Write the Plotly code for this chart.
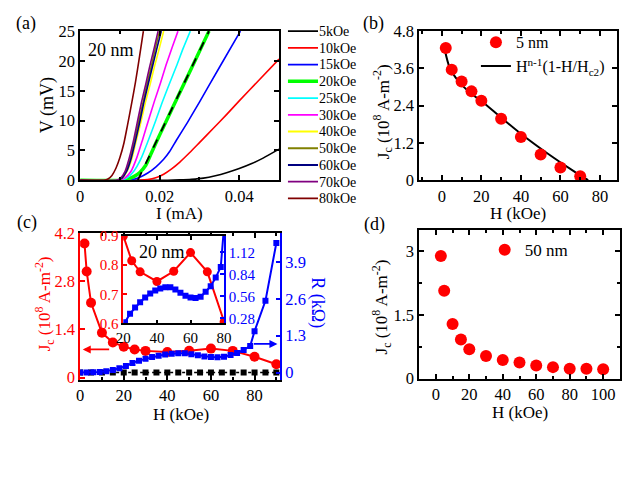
import plotly.graph_objects as go

FONT = "Liberation Serif"
W, H = 636, 496

# ---------------- (a) I-V curves, 20 nm ----------------
fields = ["5kOe", "10kOe", "15kOe", "20kOe", "25kOe", "30kOe",
          "40kOe", "50kOe", "60kOe", "70kOe", "80kOe"]
colors_a = ["#000000", "#ff0000", "#0000ff", "#00ff00", "#00ffff", "#ff00ff",
            "#ffff00", "#808000", "#000080", "#800080", "#800000"]

I_5k = [0, 0.022, 0.025, 0.028, 0.031, 0.034, 0.0368, 0.040, 0.043, 0.046, 0.050]
V_5k = [0, 0, 0.05, 0.15, 0.35, 0.75, 1.25, 1.95, 2.75, 3.7, 5.2]
I_10k = [0, 0.015, 0.017, 0.019, 0.021, 0.023, 0.025, 0.0275, 0.030, 0.0335, 0.0368, 0.040, 0.045, 0.050]
V_10k = [0, 0, 0.1, 0.4, 1.0, 1.9, 3.0, 4.6, 6.3, 8.7, 11.0, 13.3, 16.8, 20.3]
I_15k = [0, 0.011, 0.013, 0.015, 0.017, 0.019, 0.021, 0.0225, 0.0242, 0.027, 0.030, 0.035, 0.0403]
V_15k = [0, 0, 0.1, 0.5, 1.2, 2.2, 3.5, 4.8, 6.7, 9.7, 13.1, 18.9, 25]
I_20k = [0, 0.0105, 0.012, 0.0135, 0.015, 0.0165, 0.018, 0.020, 0.023, 0.026, 0.029, 0.0324]
V_20k = [0, 0, 0.2, 0.6, 1.3, 2.5, 4.7, 7.6, 11.8, 16.0, 20.2, 25]
I_25k = [0, 0.0100, 0.0118, 0.0135, 0.0153, 0.0171, 0.0189, 0.0206, 0.0224, 0.0242, 0.0259, 0.0277]
V_25k = [0, 0, 0.4, 1.5, 3.6, 6.6, 9.8, 13.0, 16.1, 19.1, 22.1, 25]
I_30k = [0, 0.0098, 0.0113, 0.0128, 0.0142, 0.0157, 0.0172, 0.0187, 0.0202, 0.0216, 0.0231, 0.0246]
V_30k = [0, 0, 0.4, 1.5, 3.7, 6.8, 10.1, 13.3, 16.3, 19.3, 22.2, 25]
I_40k = [0, 0.0095, 0.0107, 0.0118, 0.0130, 0.0141, 0.0153, 0.0164, 0.0176, 0.0187, 0.0199, 0.0210]
V_40k = [0, 0, 0.4, 1.5, 3.6, 6.6, 9.8, 13.0, 16.1, 19.1, 22.1, 25]
I_50k = [0, 0.0094, 0.0105, 0.0115, 0.0126, 0.0136, 0.0147, 0.0158, 0.0168, 0.0179, 0.0189, 0.0200]
V_50k = [0, 0, 0.4, 1.5, 3.6, 6.6, 9.8, 13.0, 16.1, 19.1, 22.1, 25]
I_60k = [0, 0.0095, 0.0106, 0.0117, 0.0128, 0.0139, 0.0150, 0.0160, 0.0171, 0.0182, 0.0193, 0.0204]
V_60k = [0, 0, 0.4, 1.5, 3.6, 6.6, 9.8, 13.0, 16.1, 19.1, 22.1, 25]
I_70k = [0, 0.0092, 0.0102, 0.0113, 0.0123, 0.0134, 0.0144, 0.0154, 0.0165, 0.0175, 0.0186, 0.0196]
V_70k = [0, 0, 0.4, 1.5, 3.6, 6.6, 9.8, 13.0, 16.1, 19.1, 22.1, 25]
I_80k = [0, 0.0060, 0.0070, 0.0080, 0.0090, 0.0100, 0.0110, 0.0119, 0.0129, 0.0139, 0.0149, 0.0159]
V_80k = [0, 0, 0.2, 0.8, 2.0, 3.8, 6.2, 9.2, 12.7, 16.4, 20.6, 25]
I_fit20 = [0.0145, 0.0324]
V_fit20 = [0, 25]

I_list = [I_5k, I_10k, I_15k, I_20k, I_25k, I_30k, I_40k, I_50k, I_60k, I_70k, I_80k]
V_list = [V_5k, V_10k, V_15k, V_20k, V_25k, V_30k, V_40k, V_50k, V_60k, V_70k, V_80k]

# ---------------- (b) Jc vs H, 5 nm ----------------
H_b = [2, 5, 10, 15, 20, 30, 40, 50, 60, 70]
Jc_b = [4.26, 3.56, 3.18, 2.86, 2.56, 1.98, 1.39, 0.83, 0.41, 0.13]
H_bfit = [1.5, 4, 7, 10.7, 15, 20.6, 30.5, 40.3, 53.5, 66.7, 74]
Jc_bfit = [4.2, 3.62, 3.3, 3.03, 2.78, 2.52, 1.99, 1.48, 0.86, 0.29, 0.0]

# ---------------- (c) Jc and R vs H, 20 nm ----------------
H_c = [2, 3, 5, 10, 15, 20, 25, 30, 40, 50, 60, 70, 80, 90]
Jc_c = [3.89, 3.08, 2.17, 1.30, 1.02, 0.90, 0.815, 0.777, 0.744, 0.779, 0.843, 0.777, 0.606, 0.39]
H_R = [0, 3, 6, 9, 12, 15, 18, 21, 24, 27, 30, 33, 36, 39, 42, 45, 48, 51, 54, 57,
       60, 63, 66, 69, 72, 75, 78, 80, 85, 90]
R_c = [0, 0, 0.01, 0.02, 0.05, 0.09, 0.15, 0.23, 0.34, 0.42, 0.485, 0.547, 0.596, 0.636,
       0.66, 0.678, 0.678, 0.648, 0.608, 0.567, 0.547, 0.538, 0.555, 0.62, 0.69, 0.80,
       0.936, 1.46, 2.53, 4.57]
H_R0 = [0, 5, 10, 15, 20, 25, 30, 35, 40, 45, 50, 55, 60, 65, 70, 75, 80, 85, 90]
R_0 = [0, 0, 0, 0, 0, 0, 0, 0, 0, 0, 0, 0, 0, 0, 0, 0, 0, 0, 0]

# ---------------- (d) Jc vs H, 50 nm ----------------
H_d = [3, 5, 10, 15, 20, 30, 40, 50, 60, 70, 80, 90, 100]
Jc_d = [2.89, 2.07, 1.29, 0.92, 0.69, 0.53, 0.44, 0.38, 0.31, 0.27, 0.23, 0.23, 0.22]


def px(x):
    return x / W


def py(y):
    return 1 - y / H


fig = go.Figure()

# (a)
for name, col, I, V in zip(fields, colors_a, I_list, V_list):
    fig.add_trace(go.Scatter(
        x=I, y=V, mode="lines", xaxis="x", yaxis="y", showlegend=False,
        line=dict(color=col, width=3.5 if name == "20kOe" else 1.6, shape="spline", smoothing=0.6),
        hoverinfo="skip"))
fig.add_trace(go.Scatter(x=I_fit20, y=V_fit20, mode="lines", xaxis="x", yaxis="y", showlegend=False,
                         line=dict(color="black", width=1.8, dash="dash")))
# (a) legend keys drawn on their own categorical axis
for name, col in zip(fields, colors_a):
    fig.add_trace(go.Scatter(x=[0, 1], y=[name, name], mode="lines", xaxis="x2", yaxis="y2",
                             showlegend=False,
                             line=dict(color=col, width=3.5 if name == "20kOe" else 1.8)))

# (b)
fig.add_trace(go.Scatter(x=H_bfit, y=Jc_bfit, mode="lines", xaxis="x3", yaxis="y3",
                         name="H<sup>n-1</sup>(1-H/H<sub>c2</sub>)", legend="legend", legendrank=2,
                         line=dict(color="black", width=2, shape="spline")))
fig.add_trace(go.Scatter(x=H_b, y=Jc_b, mode="markers", xaxis="x3", yaxis="y3",
                         name="5 nm", legend="legend", legendrank=1,
                         marker=dict(color="red", size=12, symbol="circle")))

# (c) main
fig.add_trace(go.Scatter(x=H_R0, y=R_0, mode="lines+markers", xaxis="x4", yaxis="y5", showlegend=False,
                         line=dict(color="black", width=1.5, dash="dot"),
                         marker=dict(color="black", size=6, symbol="square")))
fig.add_trace(go.Scatter(x=H_R, y=R_c, mode="lines+markers", xaxis="x4", yaxis="y5", showlegend=False,
                         line=dict(color="#0000ff", width=2),
                         marker=dict(color="#0000ff", size=6, symbol="square")))
fig.add_trace(go.Scatter(x=H_c, y=Jc_c, mode="lines+markers", xaxis="x4", yaxis="y4", showlegend=False,
                         line=dict(color="red", width=2),
                         marker=dict(color="red", size=10, symbol="circle")))
# (c) inset
fig.add_trace(go.Scatter(x=H_R, y=R_c, mode="lines+markers", xaxis="x5", yaxis="y7", showlegend=False,
                         line=dict(color="#0000ff", width=2),
                         marker=dict(color="#0000ff", size=6, symbol="square")))
fig.add_trace(go.Scatter(x=H_c, y=Jc_c, mode="lines+markers", xaxis="x5", yaxis="y6", showlegend=False,
                         line=dict(color="red", width=2),
                         marker=dict(color="red", size=9, symbol="circle")))

# (d)
fig.add_trace(go.Scatter(x=H_d, y=Jc_d, mode="markers", xaxis="x6", yaxis="y8",
                         name="50 nm", legend="legend2",
                         marker=dict(color="red", size=12, symbol="circle")))

TICK = 16.5


def axs(**kw):
    d = dict(showline=True, linecolor="black", linewidth=1.5, ticks="inside", ticklen=5,
             tickwidth=1.5, tickcolor="black", mirror="ticks", showgrid=False, zeroline=False,
             tickfont=dict(family=FONT, size=TICK, color="black"))
    d.update(kw)
    return d


RED = "#ff0000"
BLUE = "#0000ff"

fig.update_layout(
    width=W, height=H, margin=dict(l=0, r=0, t=0, b=0),
    paper_bgcolor="white", plot_bgcolor="white",
    font=dict(family=FONT, size=17, color="black"),
    xaxis=axs(domain=[px(74), px(278)], range=[0, 0.05], anchor="y",
              tickvals=[0, 0.02, 0.04], ticktext=["0", "0.02", "0.04"],
              minor=dict(tickvals=[0.01, 0.03], ticks="inside", ticklen=3, tickcolor="black")),
    yaxis=axs(domain=[py(178), py(23)], range=[0, 25], anchor="x", tickvals=[0, 5, 10, 15, 20, 25]),
    xaxis2=dict(domain=[px(287), px(318)], range=[0, 1], anchor="y2", visible=False),
    yaxis2=dict(domain=[py(205.7), py(14.3)], type="category", categoryorder="array",
                categoryarray=fields, range=[10.5, -0.5], anchor="x2", side="right",
                tickmode="linear", tick0=0, dtick=1,
                showline=False, showgrid=False, zeroline=False, ticks="",
                tickfont=dict(family=FONT, size=14, color="black")),
    xaxis3=axs(domain=[px(421.7), px(624.5)], range=[-11.5, 88.5], anchor="y3",
               tickvals=[0, 20, 40, 60, 80],
               minor=dict(tickvals=[-10, 10, 30, 50, 70], ticks="inside", ticklen=3, tickcolor="black")),
    yaxis3=axs(domain=[py(178), py(23)], range=[0, 4.8], anchor="x3",
               tickvals=[0, 1.2, 2.4, 3.6, 4.8], ticktext=["0", "1.2", "2.4", "3.6", "4.8"]),
    xaxis4=axs(domain=[px(74), px(279.3)], range=[0, 91.8], anchor="y4",
               tickvals=[0, 20, 40, 60, 80],
               minor=dict(tickvals=[10, 30, 50, 70, 90], ticks="inside", ticklen=3, tickcolor="black")),
    yaxis4=axs(domain=[py(385.7), py(232.7)], range=[-0.065, 4.2], anchor="x4", mirror=False,
               linecolor=RED, tickcolor=RED, tickvals=[0, 1.4, 2.8, 4.2],
               ticktext=["0", "1.4", "2.8", "4.2"],
               tickfont=dict(family=FONT, size=TICK, color=RED)),
    yaxis5=axs(domain=[py(385.7), py(232.7)], range=[-0.26, 4.93], anchor="x4", overlaying="y4",
               side="right", mirror=False, linecolor=BLUE, tickcolor=BLUE,
               tickvals=[0, 1.3, 2.6, 3.9], ticktext=["0", "1.3", "2.6", "3.9"],
               tickfont=dict(family=FONT, size=TICK, color=BLUE)),
    xaxis5=axs(domain=[px(118.3), px(221.7)], range=[20, 80], anchor="y6",
               tickvals=[20, 40, 60, 80], tickfont=dict(family=FONT, size=15, color="black"), ticklen=4),
    yaxis6=axs(domain=[py(327), py(236)], range=[0.6, 0.9], anchor="x5", mirror=False,
               linecolor=RED, tickcolor=RED, tickvals=[0.6, 0.7, 0.8, 0.9], ticklen=4,
               tickfont=dict(family=FONT, size=15, color=RED)),
    yaxis7=axs(domain=[py(327), py(236)], range=[0.215, 1.33], anchor="x5", overlaying="y6",
               side="right", mirror=False, linecolor=BLUE, tickcolor=BLUE, ticklen=4,
               tickvals=[0.28, 0.56, 0.84, 1.12], ticktext=["0.28", "0.56", "0.84", "1.12"],
               tickfont=dict(family=FONT, size=15, color=BLUE)),
    xaxis6=axs(domain=[px(421.7), px(627.7)], range=[-10, 110], anchor="y8",
               tickvals=[0, 20, 40, 60, 80, 100],
               minor=dict(tickvals=[10, 30, 50, 70, 90], ticks="inside", ticklen=3, tickcolor="black")),
    yaxis8=axs(domain=[py(384.3), py(230)], range=[0, 3.5], anchor="x6",
               tickvals=[0, 1.5, 3], ticktext=["0", "1.5", "3"],
               minor=dict(tickvals=[0.75, 2.25], ticks="inside", ticklen=3, tickcolor="black")),
    legend=dict(x=px(480), y=py(17), xanchor="left", yanchor="top", bgcolor="rgba(0,0,0,0)",
                font=dict(family=FONT, size=16, color="black"), tracegroupgap=0, itemwidth=30,
                traceorder="normal", itemsizing="trace"),
    legend2=dict(x=px(489), y=py(232), xanchor="left", yanchor="top", bgcolor="rgba(0,0,0,0)",
                 font=dict(family=FONT, size=17, color="black"), itemwidth=30, itemsizing="trace"),
)


def ann(text, x, y, size=18, color="black", angle=0, xanchor="center"):
    return dict(text=text, x=px(x), y=py(y), xref="paper", yref="paper", showarrow=False,
                xanchor=xanchor, yanchor="middle", textangle=angle,
                font=dict(family=FONT, size=size, color=color))


JC = "J<sub>c</sub> (10<sup>8</sup> A-m<sup>-2</sup>)"
annotations = [
    ann("(a)", 18, 15), ann("(b)", 375, 15), ann("(c)", 20, 222), ann("(d)", 376, 224),
    ann("V (mV)", 40, 100, angle=-90), ann("I (mA)", 176, 213, size=17),
    ann(JC, 385, 107, size=17, angle=-90), ann("H (kOe)", 523, 213, size=17),
    ann(JC, 37, 307, size=17, color=RED, angle=-90), ann("H (kOe)", 177, 422, size=17),
    ann("R (kΩ)", 318, 305, color=BLUE, angle=90),
    ann(JC, 383, 310, size=17, angle=-90), ann("H (kOe)", 525, 420, size=17),
    ann("20 nm", 80, 43, xanchor="left"), ann("20 nm", 158, 253),
    dict(x=1.2, y=0.82, xref="x4", yref="y4", ax=14, ay=0.82, axref="x4", ayref="y4",
         text="", showarrow=True, arrowhead=2, arrowsize=1, arrowwidth=1.6, arrowcolor=RED),
    dict(x=90.5, y=1.01, xref="x4", yref="y5", ax=79, ay=1.01, axref="x4", ayref="y5",
         text="", showarrow=True, arrowhead=2, arrowsize=1, arrowwidth=1.6, arrowcolor=BLUE),
]
fig.update_layout(annotations=annotations)

fig.write_html("out.html")
